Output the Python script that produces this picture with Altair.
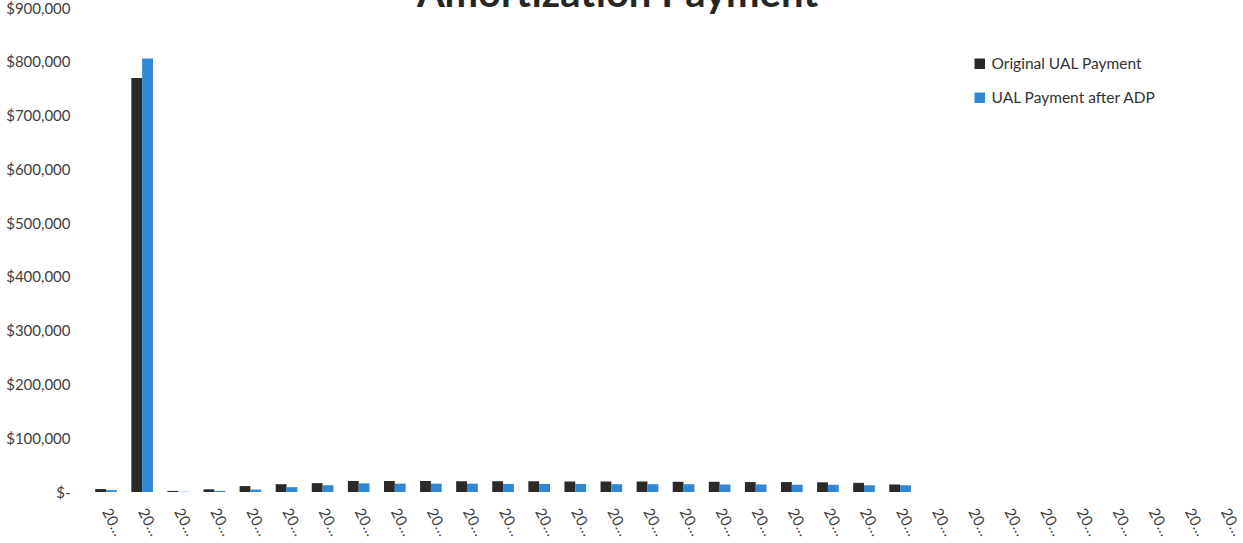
import altair as alt
import pandas as pd

years = ["2020-21", "2021-22", "2022-23", "2023-24", "2024-25", "2025-26", "2026-27", "2027-28",
         "2028-29", "2029-30", "2030-31", "2031-32", "2032-33", "2033-34", "2034-35", "2035-36",
         "2036-37", "2037-38", "2038-39", "2039-40", "2040-41", "2041-42", "2042-43", "2043-44",
         "2044-45", "2045-46", "2046-47", "2047-48", "2048-49", "2049-50", "2050-51", "2051-52"]

series_names = ["Original UAL Payment", "UAL Payment after ADP"]

original = [5500, 770000, 2000, 5000, 11000, 14500, 16500, 20500, 20500, 20500, 20000, 20000,
            20000, 19500, 19500, 19500, 19000, 19000, 18500, 18500, 18000, 17000, 14000]
after_adp = [3500, 806000, 500, 2000, 4500, 9000, 12500, 16000, 15500, 15500, 15500, 15000,
             15000, 15000, 14500, 14500, 14500, 14000, 14000, 13500, 13500, 12500, 12500]

y_ticks = [0, 100000, 200000, 300000, 400000, 500000, 600000, 700000, 800000, 900000]

n = len(original)
df = pd.DataFrame({
    "Year": years[:n] * 2,
    "Series": [series_names[0]] * n + [series_names[1]] * n,
    "Payment": original + after_adp,
})

FONT = "Lato"

chart = alt.Chart(df).mark_bar().encode(
    x=alt.X("Year:N", sort=years,
            scale=alt.Scale(domain=years, paddingInner=0.4, paddingOuter=0.2),
            axis=alt.Axis(title=None, labelAngle=62, labelLimit=30, ticks=False, domain=False,
                          labelFontSize=15, labelColor="#404040", labelFont=FONT,
                          labelPadding=17)),
    xOffset=alt.XOffset("Series:N", sort=series_names),
    y=alt.Y("Payment:Q",
            scale=alt.Scale(domain=[0, 900000], nice=False),
            axis=alt.Axis(title=None, values=y_ticks, grid=False, domain=False, ticks=False,
                          labelFontSize=15, labelColor="#404040", labelFont=FONT,
                          labelPadding=18,
                          labelExpr="datum.value == 0 ? '$-\u00a0\u00a0' : '$' + format(datum.value, ',')")),
    color=alt.Color("Series:N",
                    scale=alt.Scale(domain=series_names, range=["#2a2a2a", "#2f88d6"]),
                    legend=alt.Legend(title=None, orient="none", legendX=884, legendY=48,
                                      symbolType="square", symbolSize=110,
                                      symbolStrokeWidth=0, labelLimit=300,
                                      labelFontSize=15.5, labelColor="#333333", labelFont=FONT,
                                      rowPadding=17, labelOffset=4)),
).properties(
    width=1155,
    height=484,
    background="white",
    title=alt.TitleParams("Amortization Payment", fontSize=40, fontWeight="bold", font=FONT,
                          color="#262626", anchor="middle", dx=-48, offset=0, dy=46,
                          baseline="alphabetic"),
    autosize=alt.AutoSizeParams(type="none"),
    padding={"left": 88, "top": 8, "right": 0, "bottom": 51},
).configure_view(stroke=None, strokeWidth=0)

chart.save("out.html", embed_options={"renderer": "svg", "actions": False})
